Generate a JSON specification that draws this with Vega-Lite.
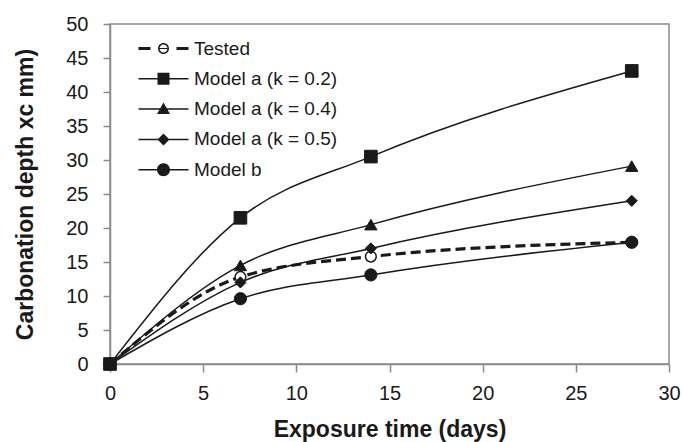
{
  "$schema": "https://vega.github.io/schema/vega-lite/v6.json",
  "width": 559,
  "height": 340,
  "autosize": {"type": "none"},
  "padding": {"left": 110, "top": 24, "right": 14, "bottom": 78},
  "background": "white",
  "config": {
    "font": "Liberation Sans",
    "view": {"stroke": "#8a8a8a", "strokeWidth": 1.5},
    "axis": {
      "grid": false,
      "domainColor": "#8a8a8a",
      "domainWidth": 1.5,
      "tickColor": "#8a8a8a",
      "tickWidth": 1.5,
      "labelColor": "#1a1a1a",
      "titleColor": "#1a1a1a",
      "labelFont": "Liberation Sans",
      "titleFont": "Liberation Sans",
      "labelFontSize": 20,
      "titleFontSize": 23,
      "titleFontWeight": "bold"
    }
  },
  "data": {
    "values": [
      {"series": "Tested", "t": 0, "depth": 0},
      {"series": "Tested", "t": 7, "depth": 12.8},
      {"series": "Tested", "t": 14, "depth": 15.8},
      {"series": "Tested", "t": 28, "depth": 17.9},
      {"series": "Model a (k = 0.2)", "t": 0, "depth": 0},
      {"series": "Model a (k = 0.2)", "t": 7, "depth": 21.5},
      {"series": "Model a (k = 0.2)", "t": 14, "depth": 30.5},
      {"series": "Model a (k = 0.2)", "t": 28, "depth": 43.1},
      {"series": "Model a (k = 0.4)", "t": 0, "depth": 0},
      {"series": "Model a (k = 0.4)", "t": 7, "depth": 14.5},
      {"series": "Model a (k = 0.4)", "t": 14, "depth": 20.5},
      {"series": "Model a (k = 0.4)", "t": 28, "depth": 29.1},
      {"series": "Model a (k = 0.5)", "t": 0, "depth": 0},
      {"series": "Model a (k = 0.5)", "t": 7, "depth": 12.0},
      {"series": "Model a (k = 0.5)", "t": 14, "depth": 17.0},
      {"series": "Model a (k = 0.5)", "t": 28, "depth": 24.0},
      {"series": "Model b", "t": 0, "depth": 0},
      {"series": "Model b", "t": 7, "depth": 9.6},
      {"series": "Model b", "t": 14, "depth": 13.1},
      {"series": "Model b", "t": 28, "depth": 17.9}
    ]
  },
  "encoding": {
    "x": {
      "field": "t",
      "type": "quantitative",
      "scale": {"domain": [0, 30], "nice": false},
      "axis": {
        "values": [0, 5, 10, 15, 20, 25, 30],
        "title": "Exposure time (days)",
        "tickSize": 8,
        "labelPadding": 11,
        "titlePadding": 15,
        "labelFlush": false
      }
    },
    "y": {
      "field": "depth",
      "type": "quantitative",
      "scale": {"domain": [0, 50], "nice": false},
      "axis": {
        "values": [0, 5, 10, 15, 20, 25, 30, 35, 40, 45, 50],
        "title": "Carbonation depth xc mm)",
        "tickSize": 7,
        "labelPadding": 15,
        "titlePadding": 28
      }
    }
  },
  "layer": [
    {
      "transform": [{"filter": "datum.series !== 'Tested'"}],
      "mark": {"type": "line", "interpolate": "monotone", "color": "#1a1a1a", "strokeWidth": 1.5},
      "encoding": {
        "detail": {"field": "series"}
      }
    },
    {
      "transform": [{"filter": "datum.series === 'Tested'"}],
      "mark": {"type": "line", "interpolate": "monotone", "color": "#1a1a1a", "strokeWidth": 3.2, "strokeDash": [10, 5]},
      "encoding": {}
    },
    {
      "transform": [{"filter": "datum.series === 'Tested'"}],
      "mark": {"type": "point", "shape": "circle", "filled": true, "fill": "white", "opacity": 1, "stroke": "#1a1a1a", "strokeWidth": 1.5, "size": 115},
      "encoding": {}
    },
    {
      "transform": [{"filter": "datum.series === 'Model a (k = 0.2)'"}],
      "mark": {"type": "point", "shape": "square", "filled": true, "opacity": 1, "color": "#1a1a1a", "stroke": "#1a1a1a", "strokeWidth": 1, "size": 160},
      "encoding": {}
    },
    {
      "transform": [{"filter": "datum.series === 'Model a (k = 0.4)'"}],
      "mark": {"type": "point", "shape": "triangle-up", "filled": true, "opacity": 1, "color": "#1a1a1a", "stroke": "#1a1a1a", "strokeWidth": 1, "size": 150},
      "encoding": {}
    },
    {
      "transform": [{"filter": "datum.series === 'Model a (k = 0.5)'"}],
      "mark": {"type": "point", "shape": "diamond", "filled": true, "opacity": 1, "color": "#1a1a1a", "stroke": "#1a1a1a", "strokeWidth": 1, "size": 125},
      "encoding": {}
    },
    {
      "transform": [{"filter": "datum.series === 'Model b'"}],
      "mark": {"type": "point", "shape": "circle", "filled": true, "opacity": 1, "color": "#1a1a1a", "stroke": "#1a1a1a", "strokeWidth": 1, "size": 150},
      "encoding": {}
    },
    {
      "transform": [{"filter": "false"}],
      "mark": {"type": "point", "filled": true, "opacity": 1, "color": "#1a1a1a", "strokeWidth": 0},
      "encoding": {
        "shape": {
          "field": "series",
          "type": "nominal",
          "scale": {
            "domain": ["Tested", "Model a (k = 0.2)", "Model a (k = 0.4)", "Model a (k = 0.5)", "Model b"],
            "range": [
              "M-25,-1.5H-13V1.5H-25Z M13,-1.5H25V1.5H13Z M5.5,0A5.5,5.5 0 1,1 -5.5,0A5.5,5.5 0 1,1 5.5,0Z M4,0A4,4 0 1,0 -4,0A4,4 0 1,0 4,0Z M-4,-0.6H4V0.6H-4Z",
              "M-25,-0.75H25V0.75H-25Z M-6,-6H6V6H-6Z",
              "M-25,-0.75H25V0.75H-25Z M0,-6.5L6.5,5L-6.5,5Z",
              "M-25,-0.75H25V0.75H-25Z M0,-6L6,0L0,6L-6,0Z",
              "M-25,-0.75H25V0.75H-25Z M6.5,0A6.5,6.5 0 1,1 -6.5,0A6.5,6.5 0 1,1 6.5,0Z"
            ]
          },
          "legend": {
            "title": null,
            "orient": "none",
            "legendX": 44,
            "legendY": 15,
            "padding": 0,
            "symbolSize": 4,
            "symbolFillColor": "#1a1a1a",
            "symbolStrokeWidth": 0,
            "symbolOpacity": 1,
            "labelFontSize": 19,
            "labelFont": "Liberation Sans",
            "labelColor": "#1a1a1a",
            "labelOffset": 21,
            "rowPadding": 10.3
          }
        }
      }
    }
  ]
}
